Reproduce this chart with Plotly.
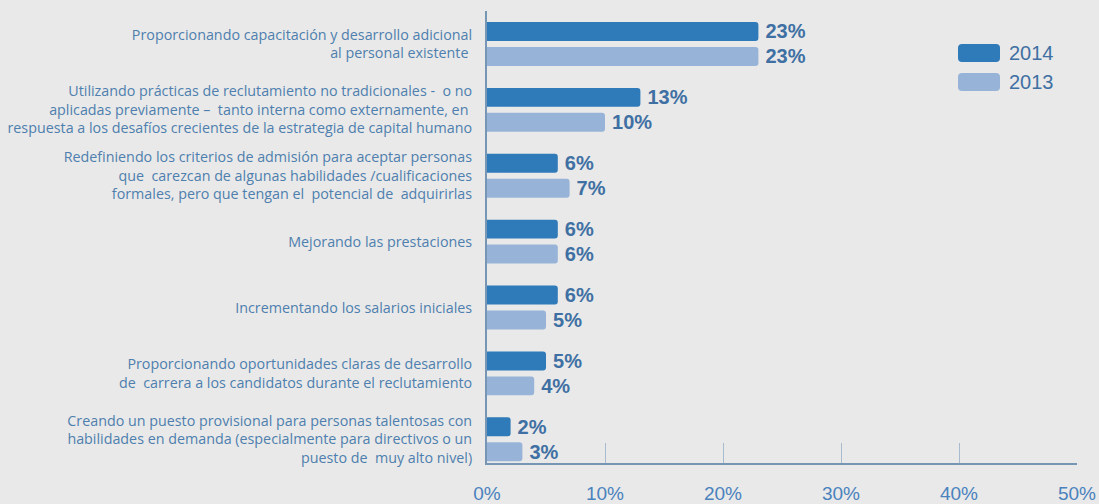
import plotly.graph_objects as go

# Survey answers (share of respondents) for 2014 and 2013
categories = [
    "Proporcionando capacitación y desarrollo adicional<br>al personal existente ",
    "Utilizando prácticas de reclutamiento no tradicionales -  o no<br>aplicadas previamente –  tanto interna como externamente, en <br>respuesta a los desafíos crecientes de la estrategia de capital humano",
    "Redefiniendo los criterios de admisión para aceptar personas<br>que  carezcan de algunas habilidades /cualificaciones<br>formales, pero que tengan el  potencial de  adquirirlas",
    "Mejorando las prestaciones",
    "Incrementando los salarios iniciales",
    "Proporcionando oportunidades claras de desarrollo<br>de  carrera a los candidatos durante el reclutamiento",
    "Creando un puesto provisional para personas talentosas con<br>habilidades en demanda (especialmente para directivos o un<br>puesto de  muy alto nivel)",
]
values_2014 = [23, 13, 6, 6, 6, 5, 2]
values_2013 = [23, 10, 7, 6, 5, 4, 3]
x_ticks = [0, 10, 20, 30, 40, 50]
x_tick_labels = ["0%", "10%", "20%", "30%", "40%", "50%"]

series = [("2014", values_2014, "#2f7ab8"), ("2013", values_2013, "#97b4d8")]

BG = "#e9e9e9"
TEXT = "#4e7fae"
LABEL = "#3f70a3"
AXIS = "#7796b6"
FONT = "Liberation Sans, Arial, sans-serif"

fig = go.Figure()
for name, vals, color in series:
    fig.add_trace(go.Bar(
        name=name,
        y=categories,
        x=vals,
        orientation="h",
        marker=dict(color=color, line=dict(width=0)),
        text=[f"{v}%" for v in vals],
        textposition="outside",
        textfont=dict(family=FONT, size=20, color=LABEL),
        texttemplate="\u2009<b>%{text}</b>",
        cliponaxis=False,
        constraintext="none",
        showlegend=False,
    ))

# Legend drawn as rounded swatches with labels
def rounded_rect(x0, y0, x1, y1, r_x, r_y):
    return (f"M{x0+r_x},{y0} L{x1-r_x},{y0} Q{x1},{y0} {x1},{y0+r_y} "
            f"L{x1},{y1-r_y} Q{x1},{y1} {x1-r_x},{y1} L{x0+r_x},{y1} "
            f"Q{x0},{y1} {x0},{y1-r_y} L{x0},{y0+r_y} Q{x0},{y0} {x0+r_x},{y0} Z")

plot_w, plot_h = 590, 452
legend_rows = [(53, series[0]), (82, series[1])]  # pixel centre rows from top of page
shapes = []
annotations = []
for yc, (name, _, color) in legend_rows:
    px0, px1 = 958, 1000
    py0, py1 = yc - 9, yc + 9
    x0 = (px0 - 487) / plot_w
    x1 = (px1 - 487) / plot_w
    y0 = (463 - py1) / plot_h
    y1 = (463 - py0) / plot_h
    shapes.append(dict(type="path", xref="paper", yref="paper",
                       path=rounded_rect(x0, y0, x1, y1, 4 / plot_w, 4 / plot_h),
                       fillcolor=color, line=dict(width=0)))
    annotations.append(dict(xref="paper", yref="paper", x=(1007 - 487) / plot_w,
                            y=(463 - yc) / plot_h, text=name, showarrow=False,
                            xanchor="left", yanchor="middle",
                            font=dict(family=FONT, size=20, color=LABEL)))

fig.update_layout(
    width=1099, height=504,
    margin=dict(l=487, r=22, t=11, b=41, autoexpand=False),
    paper_bgcolor=BG, plot_bgcolor=BG,
    barmode="group",
    bargap=0.243,
    bargroupgap=0.24,
    barcornerradius=3,
    shapes=shapes,
    annotations=annotations,
    xaxis=dict(
        range=[0, 50],
        tickvals=x_ticks,
        ticktext=x_tick_labels,
        showgrid=False,
        zeroline=False,
        showline=True,
        linecolor=AXIS,
        linewidth=1.5,
        ticks="inside",
        ticklen=20,
        tickcolor="#a9bccf",
        tickwidth=1,
        ticklabelstandoff=12,
        automargin=False,
        tickfont=dict(family=FONT, size=19, color="#4a82bd"),
        fixedrange=True,
    ),
    yaxis=dict(
        categoryorder="array",
        categoryarray=categories,
        range=[6.36, -0.5],
        showgrid=False,
        zeroline=False,
        showline=True,
        linecolor=AXIS,
        linewidth=2,
        ticks="",
        ticklabelstandoff=10,
        automargin=False,
        tickfont=dict(family="Open Sans, Liberation Sans, sans-serif", size=14.3, color=TEXT),
        fixedrange=True,
    ),
)

fig.write_html("out.html", config=dict(displayModeBar=False))
